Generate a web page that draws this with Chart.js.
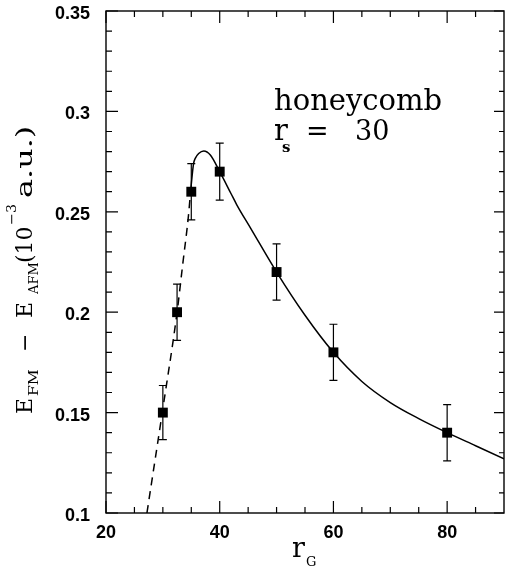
<!DOCTYPE html>
<html><head><meta charset="utf-8">
<script src="https://cdn.jsdelivr.net/npm/chart.js@4/dist/chart.umd.min.js"></script>
<style>html,body{margin:0;padding:0;background:#fff;} canvas{display:block;}</style>
</head><body>
<canvas id="c" width="505" height="567"></canvas>
<script>
// ---- data ----
const rG     = [30, 32.5, 35, 40, 50, 60, 80];
const dE     = [0.15, 0.20, 0.26, 0.27, 0.22, 0.18, 0.14];
const dEerr  = [0.0135, 0.014, 0.014, 0.0142, 0.014, 0.014, 0.014];
const fitX   = [34.9, 35.4, 35.7, 36.3, 37.2, 38.35, 40, 42, 43, 45.4, 50, 55, 60, 65, 70, 75, 80, 85, 90];
const fitY   = [0.261, 0.274, 0.2766, 0.279, 0.2803, 0.2783, 0.270, 0.259, 0.2535, 0.242, 0.220, 0.1985, 0.180, 0.1655, 0.155, 0.147, 0.140, 0.1335, 0.127];
const extX   = [27.2, 30, 32.5, 33.5, 34.5, 34.9];
const extY   = [0.1, 0.152, 0.2, 0.224, 0.248, 0.261];
const xTicks = [20, 40, 60, 80];
const xTickLabels = ['20', '40', '60', '80'];
const xMinor = [25, 30, 35, 45, 50, 55, 65, 70, 75, 85];
const yTicks = [0.1, 0.15, 0.2, 0.25, 0.3, 0.35];
const yTickLabels = ['0.1', '0.15', '0.2', '0.25', '0.3', '0.35'];
const yMinor = [0.11, 0.12, 0.13, 0.14, 0.16, 0.17, 0.18, 0.19, 0.21, 0.22, 0.23, 0.24, 0.26, 0.27, 0.28, 0.29, 0.31, 0.32, 0.33, 0.34];

const pts = (xs, ys) => xs.map((v, i) => ({x: v, y: ys[i]}));
const noPad = s => { s.paddingTop = 0; s.paddingBottom = 0; s.paddingLeft = 0; s.paddingRight = 0; };

const decor = {
  id: 'decor',
  afterDatasetsDraw(chart) {
    const {ctx, scales: {x, y}} = chart;
    ctx.save();
    ctx.strokeStyle = '#000';
    ctx.lineWidth = 1.2;
    ctx.beginPath();
    rG.forEach((v, i) => {
      const px = x.getPixelForValue(v);
      const p1 = y.getPixelForValue(dE[i] + dEerr[i]);
      const p2 = y.getPixelForValue(dE[i] - dEerr[i]);
      ctx.moveTo(px, p1); ctx.lineTo(px, p2);
      ctx.moveTo(px - 4, p1); ctx.lineTo(px + 4, p1);
      ctx.moveTo(px - 4, p2); ctx.lineTo(px + 4, p2);
    });
    ctx.stroke();
    ctx.restore();
  },
  afterDraw(chart) {
    const {ctx, chartArea: a, scales: {x, y}} = chart;
    ctx.save();
    ctx.strokeStyle = '#000';
    ctx.lineWidth = 1.4;
    ctx.strokeRect(a.left, a.top, a.right - a.left, a.bottom - a.top);
    ctx.lineWidth = 1.2;
    ctx.beginPath();
    const seg = (x1, y1, x2, y2) => { ctx.moveTo(x1, y1); ctx.lineTo(x2, y2); };
    xTicks.forEach(v => { const p = x.getPixelForValue(v); seg(p, a.bottom, p, a.bottom - 12); seg(p, a.top, p, a.top + 12); });
    xMinor.forEach(v => { const p = x.getPixelForValue(v); seg(p, a.bottom, p, a.bottom - 6); seg(p, a.top, p, a.top + 6); });
    yTicks.forEach(v => { const p = y.getPixelForValue(v); seg(a.left, p, a.left + 12, p); seg(a.right, p, a.right - 10, p); });
    yMinor.forEach(v => { const p = y.getPixelForValue(v); seg(a.left, p, a.left + 6, p); seg(a.right, p, a.right - 5, p); });
    ctx.stroke();

    ctx.fillStyle = '#000';
    ctx.textBaseline = 'alphabetic';
    ctx.textAlign = 'left';
    // annotation
    ctx.font = '29px "DejaVu Serif"';
    ctx.fillText('honeycomb', 274, 110);
    ctx.fillText('r', 274, 140);
    ctx.font = '27px "DejaVu Serif"';
    ctx.fillText('=', 306, 140);
    ctx.fillText('30', 355, 140);
    ctx.font = 'bold 15px "DejaVu Serif"';
    ctx.fillText('s', 282, 152);

    // x title
    ctx.font = '27px "DejaVu Serif"';
    ctx.fillText('r', 292, 557);
    ctx.font = '13px "DejaVu Serif"';
    ctx.fillText('G', 306, 566);

    // y title (rotated)
    ctx.save();
    ctx.rotate(-Math.PI / 2);
    const piece = (t, startY, size, base, stretch) => {
      ctx.font = size + 'px "DejaVu Serif"';
      ctx.save();
      ctx.translate(-startY, base);
      ctx.scale(stretch || 1, 1);
      ctx.fillText(t, 0, 0);
      ctx.restore();
    };
    piece('E', 414, 22, 32);
    piece('FM', 396, 13, 38, 1.2);
    piece('\u2212', 352, 22, 32);
    piece('E', 318, 22, 32);
    piece('AFM', 294, 13, 38, 1.0);
    piece('(10', 263, 22, 32, 1.0);
    piece('\u22123', 225, 13, 16, 1.1);
    piece('a.u.)', 198, 22, 32, 1.45);
    ctx.restore();
    ctx.restore();
  }
};

new Chart(document.getElementById('c'), {
  type: 'scatter',
  data: {
    datasets: [
      { data: pts(fitX, fitY), showLine: true, borderColor: '#000', borderWidth: 1.5, pointRadius: 0, cubicInterpolationMode: 'monotone', fill: false },
      { data: pts(extX, extY), showLine: true, borderColor: '#000', borderWidth: 1.5, borderDash: [8, 6], pointRadius: 0, cubicInterpolationMode: 'monotone', fill: false },
      { data: pts(rG, dE), showLine: false, pointStyle: 'rect', pointRadius: 7, backgroundColor: '#000', borderColor: '#000', borderWidth: 0 }
    ]
  },
  options: {
    responsive: false,
    animation: false,
    events: [],
    layout: { autoPadding: false, padding: { top: 11, right: 1, left: 0, bottom: 0 } },
    plugins: { legend: { display: false }, tooltip: { enabled: false } },
    scales: {
      x: {
        type: 'linear', min: 20, max: 90,
        grid: { display: false, drawTicks: false },
        border: { display: false },
        afterBuildTicks: s => { s.ticks = xTicks.map(v => ({value: v})); },
        afterFit: s => { s.height = 54; noPad(s); },
        ticks: { padding: 9, color: '#000', font: { family: 'Liberation Sans', weight: 'bold', size: 18 }, maxRotation: 0, callback: (v, i) => xTickLabels[i] }
      },
      y: {
        type: 'linear', min: 0.1, max: 0.35,
        grid: { display: false, drawTicks: false },
        border: { display: false },
        afterBuildTicks: s => { s.ticks = yTicks.map(v => ({value: v})); },
        afterFit: s => { s.width = 106; noPad(s); },
        ticks: { padding: 16, labelOffset: 3, color: '#000', font: { family: 'Liberation Sans', weight: 'bold', size: 18 }, callback: (v, i) => yTickLabels[i] }
      }
    }
  },
  plugins: [decor]
});
</script>
</body></html>
